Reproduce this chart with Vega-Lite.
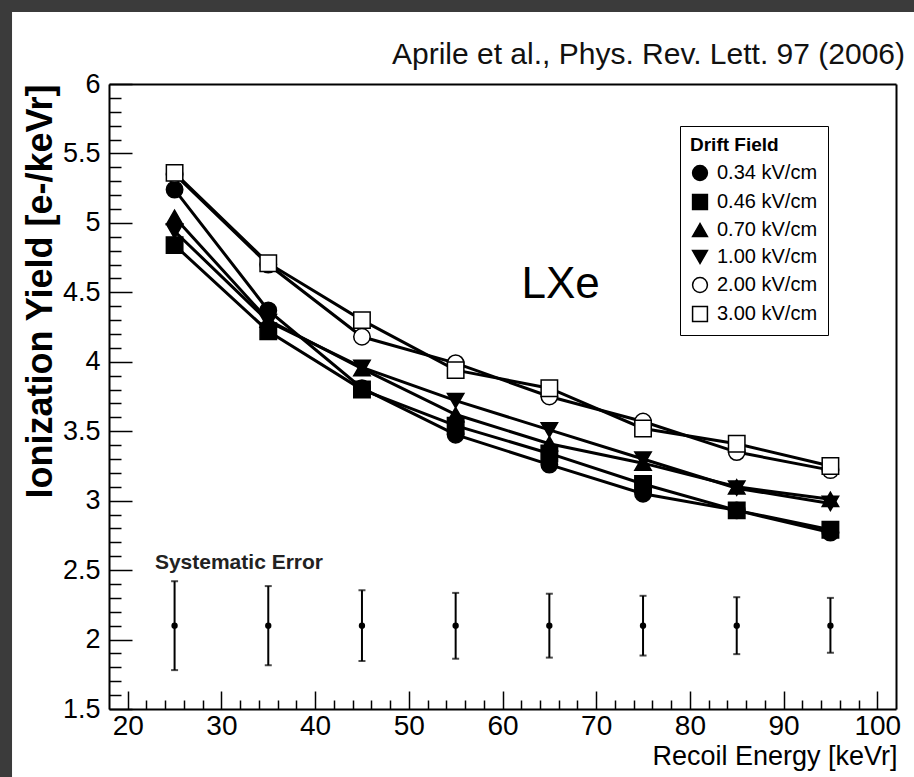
{
  "$schema": "https://vega.github.io/schema/vega-lite/v6.json",
  "width": 787,
  "height": 625,
  "autosize": {"type": "none"},
  "padding": {"left": 109, "top": 84, "right": 18, "bottom": 68},
  "background": "#3b3b3b",
  "config": {
    "view": {"stroke": null},
    "font": "Liberation Sans",
    "axis": {"grid": false, "domainColor": "black", "domainWidth": 2, "tickColor": "black", "tickWidth": 1.5, "labelColor": "black", "titleColor": "black"}
  },
  "title": {
    "text": "Aprile et al., Phys. Rev. Lett. 97 (2006)",
    "anchor": "end",
    "frame": "group",
    "font": "Liberation Sans",
    "fontSize": 30,
    "fontWeight": "normal",
    "color": "#111111",
    "baseline": "bottom",
    "offset": -88,
    "dx": 9,
    "zindex": 2
  },
  "datasets": {
    "yield": [
      {"field": "0.34 kV/cm", "energy": 25, "yield": 5.24},
      {"field": "0.34 kV/cm", "energy": 35, "yield": 4.37},
      {"field": "0.34 kV/cm", "energy": 45, "yield": 3.81},
      {"field": "0.34 kV/cm", "energy": 55, "yield": 3.475},
      {"field": "0.34 kV/cm", "energy": 65, "yield": 3.26},
      {"field": "0.34 kV/cm", "energy": 75, "yield": 3.05},
      {"field": "0.34 kV/cm", "energy": 85, "yield": 2.93},
      {"field": "0.34 kV/cm", "energy": 95, "yield": 2.77},
      {"field": "0.46 kV/cm", "energy": 25, "yield": 4.84},
      {"field": "0.46 kV/cm", "energy": 35, "yield": 4.22},
      {"field": "0.46 kV/cm", "energy": 45, "yield": 3.8},
      {"field": "0.46 kV/cm", "energy": 55, "yield": 3.54},
      {"field": "0.46 kV/cm", "energy": 65, "yield": 3.34},
      {"field": "0.46 kV/cm", "energy": 75, "yield": 3.12},
      {"field": "0.46 kV/cm", "energy": 85, "yield": 2.93},
      {"field": "0.46 kV/cm", "energy": 95, "yield": 2.79},
      {"field": "0.70 kV/cm", "energy": 25, "yield": 5.04},
      {"field": "0.70 kV/cm", "energy": 35, "yield": 4.3},
      {"field": "0.70 kV/cm", "energy": 45, "yield": 3.95},
      {"field": "0.70 kV/cm", "energy": 55, "yield": 3.62},
      {"field": "0.70 kV/cm", "energy": 65, "yield": 3.41},
      {"field": "0.70 kV/cm", "energy": 75, "yield": 3.27},
      {"field": "0.70 kV/cm", "energy": 85, "yield": 3.1},
      {"field": "0.70 kV/cm", "energy": 95, "yield": 3.01},
      {"field": "1.00 kV/cm", "energy": 25, "yield": 4.94},
      {"field": "1.00 kV/cm", "energy": 35, "yield": 4.29},
      {"field": "1.00 kV/cm", "energy": 45, "yield": 3.96},
      {"field": "1.00 kV/cm", "energy": 55, "yield": 3.72},
      {"field": "1.00 kV/cm", "energy": 65, "yield": 3.51},
      {"field": "1.00 kV/cm", "energy": 75, "yield": 3.3},
      {"field": "1.00 kV/cm", "energy": 85, "yield": 3.09},
      {"field": "1.00 kV/cm", "energy": 95, "yield": 2.98},
      {"field": "2.00 kV/cm", "energy": 25, "yield": 5.35},
      {"field": "2.00 kV/cm", "energy": 35, "yield": 4.7},
      {"field": "2.00 kV/cm", "energy": 45, "yield": 4.18},
      {"field": "2.00 kV/cm", "energy": 55, "yield": 3.99},
      {"field": "2.00 kV/cm", "energy": 65, "yield": 3.75},
      {"field": "2.00 kV/cm", "energy": 75, "yield": 3.57},
      {"field": "2.00 kV/cm", "energy": 85, "yield": 3.35},
      {"field": "2.00 kV/cm", "energy": 95, "yield": 3.22},
      {"field": "3.00 kV/cm", "energy": 25, "yield": 5.36},
      {"field": "3.00 kV/cm", "energy": 35, "yield": 4.71},
      {"field": "3.00 kV/cm", "energy": 45, "yield": 4.3},
      {"field": "3.00 kV/cm", "energy": 55, "yield": 3.94},
      {"field": "3.00 kV/cm", "energy": 65, "yield": 3.81},
      {"field": "3.00 kV/cm", "energy": 75, "yield": 3.52},
      {"field": "3.00 kV/cm", "energy": 85, "yield": 3.41},
      {"field": "3.00 kV/cm", "energy": 95, "yield": 3.25}
    ],
    "syst": [
      {"energy": 25, "center": 2.1, "lo": 1.78, "hi": 2.42},
      {"energy": 35, "center": 2.1, "lo": 1.815, "hi": 2.385},
      {"energy": 45, "center": 2.1, "lo": 1.845, "hi": 2.355},
      {"energy": 55, "center": 2.1, "lo": 1.862, "hi": 2.336},
      {"energy": 65, "center": 2.1, "lo": 1.87, "hi": 2.33},
      {"energy": 75, "center": 2.1, "lo": 1.885, "hi": 2.315},
      {"energy": 85, "center": 2.1, "lo": 1.895, "hi": 2.305},
      {"energy": 95, "center": 2.1, "lo": 1.905, "hi": 2.3}
    ]
  },
  "layer": [
    {
      "data": {"values": [{}]},
      "mark": {"type": "rect", "fill": "white", "clip": false},
      "encoding": {
        "x": {"datum": 7.65, "type": "quantitative", "scale": {"domain": [18, 102], "nice": false, "zero": false},
              "axis": {"orient": "top", "labels": false, "ticks": false, "domain": true, "title": null, "zindex": 1}},
        "x2": {"datum": 104.5},
        "y": {"datum": 6.518, "type": "quantitative", "scale": {"domain": [1.5, 6], "nice": false, "zero": false},
              "axis": {"orient": "right", "labels": false, "ticks": false, "domain": true, "title": null, "zindex": 1}},
        "y2": {"datum": 0.9}
      }
    },
    {
      "data": {"name": "syst"},
      "mark": {"type": "rule", "color": "black", "strokeWidth": 2},
      "encoding": {
        "x": {"field": "energy", "type": "quantitative", "scale": {"domain": [18, 102], "nice": false, "zero": false},
              "axis": {"orient": "bottom", "zindex": 1, "values": [20, 30, 40, 50, 60, 70, 80, 90, 100], "ticks": false, "domain": true, "labelPadding": 3,
                       "labelFontSize": 28, "format": "d", "labelFlush": false, "labelOverlap": false,
                       "title": "Recoil Energy [keVr]", "titleFontSize": 27, "titleFontWeight": "normal",
                       "titleAnchor": "end", "titleAlign": "right", "titleX": 788, "titleY": 47, "titleBaseline": "middle"}},
        "y": {"field": "lo", "type": "quantitative", "scale": {"domain": [1.5, 6], "nice": false, "zero": false},
              "axis": {"orient": "left", "zindex": 1, "values": [1.5, 2, 2.5, 3, 3.5, 4, 4.5, 5, 5.5, 6], "ticks": false, "domain": true, "labelPadding": 9,
                       "labelFontSize": 27, "format": "~g", "labelFlush": false, "labelOverlap": false,
                       "title": "Ionization Yield [e-/keVr]", "titleFontSize": 36, "titleFontWeight": "bold",
                       "titleAngle": -90, "titleAlign": "right", "titleBaseline": "middle", "titleX": -69, "titleY": 0}},
        "y2": {"field": "hi"}
      }
    },
    {
      "data": {"name": "syst"},
      "mark": {"type": "tick", "color": "black", "orient": "horizontal", "size": 7, "thickness": 2},
      "encoding": {
        "x": {"field": "energy", "type": "quantitative", "scale": {"domain": [18, 102], "nice": false, "zero": false},
              "axis": {"orient": "bottom", "zindex": 1, "values": [20, 30, 40, 50, 60, 70, 80, 90, 100], "labels": false, "domain": false, "ticks": true, "tickSize": -18, "title": null}},
        "y": {"field": "lo", "type": "quantitative", "scale": {"domain": [1.5, 6], "nice": false, "zero": false},
              "axis": {"orient": "left", "zindex": 1, "values": [1.5, 2, 2.5, 3, 3.5, 4, 4.5, 5, 5.5, 6], "labels": false, "domain": false, "ticks": true, "tickSize": -23, "title": null}}
      }
    },
    {
      "data": {"name": "syst"},
      "mark": {"type": "tick", "color": "black", "orient": "horizontal", "size": 7, "thickness": 2},
      "encoding": {
        "x": {"field": "energy", "type": "quantitative", "scale": {"domain": [18, 102], "nice": false, "zero": false},
              "axis": {"orient": "bottom", "zindex": 1, "values": [22, 24, 26, 28, 32, 34, 36, 38, 42, 44, 46, 48, 52, 54, 56, 58, 62, 64, 66, 68, 72, 74, 76, 78, 82, 84, 86, 88, 92, 94, 96, 98], "labels": false, "domain": false, "ticks": true, "tickSize": -9, "title": null}},
        "y": {"field": "hi", "type": "quantitative", "scale": {"domain": [1.5, 6], "nice": false, "zero": false},
              "axis": {"orient": "left", "zindex": 1, "values": [1.6, 1.7, 1.8, 1.9, 2.1, 2.2, 2.3, 2.4, 2.6, 2.7, 2.8, 2.9, 3.1, 3.2, 3.3, 3.4, 3.6, 3.7, 3.8, 3.9, 4.1, 4.2, 4.3, 4.4, 4.6, 4.7, 4.8, 4.9, 5.1, 5.2, 5.3, 5.4, 5.6, 5.7, 5.8, 5.9], "labels": false, "domain": false, "ticks": true, "tickSize": -12, "title": null}}
      }
    },
    {
      "data": {"name": "syst"},
      "mark": {"type": "point", "filled": true, "color": "black", "size": 40, "shape": "circle", "opacity": 1},
      "encoding": {
        "x": {"field": "energy", "type": "quantitative", "scale": {"domain": [18, 102], "nice": false, "zero": false}, "axis": null},
        "y": {"field": "center", "type": "quantitative", "scale": {"domain": [1.5, 6], "nice": false, "zero": false}, "axis": null}
      }
    },
    {
      "data": {"name": "yield"},
      "mark": {"type": "line", "color": "black", "strokeWidth": 3},
      "encoding": {
        "x": {"field": "energy", "type": "quantitative", "scale": {"domain": [18, 102], "nice": false, "zero": false}, "axis": null},
        "y": {"field": "yield", "type": "quantitative", "scale": {"domain": [1.5, 6], "nice": false, "zero": false}, "axis": null},
        "detail": {"field": "field", "type": "nominal"},
        "order": {"field": "energy", "type": "quantitative"}
      }
    },
    {
      "data": {"name": "yield"},
      "mark": {"type": "point", "filled": true, "strokeWidth": 1.5, "size": 270, "opacity": 1},
      "encoding": {
        "x": {"field": "energy", "type": "quantitative", "scale": {"domain": [18, 102], "nice": false, "zero": false}, "axis": null},
        "y": {"field": "yield", "type": "quantitative", "scale": {"domain": [1.5, 6], "nice": false, "zero": false}, "axis": null},
        "shape": {"field": "field", "type": "nominal", "title": "Drift Field",
                  "scale": {"domain": ["0.34 kV/cm", "0.46 kV/cm", "0.70 kV/cm", "1.00 kV/cm", "2.00 kV/cm", "3.00 kV/cm"],
                            "range": ["circle", "square", "triangle-up", "triangle-down", "circle", "square"]},
                  "legend": {"orient": "none", "legendX": 571, "legendY": 42, "fillColor": "white", "strokeColor": "black", "padding": 10,
                             "titleFont": "Liberation Sans", "titleFontSize": 19, "titleFontWeight": "bold", "titleColor": "black", "titlePadding": 8,
                             "labelFont": "Liberation Sans", "labelFontSize": 20, "labelColor": "black", "labelOffset": 7, "rowPadding": 7,
                             "symbolSize": 220, "symbolStrokeWidth": 1.5}},
        "fill": {"field": "field", "type": "nominal", "title": "Drift Field",
                 "scale": {"domain": ["0.34 kV/cm", "0.46 kV/cm", "0.70 kV/cm", "1.00 kV/cm", "2.00 kV/cm", "3.00 kV/cm"],
                           "range": ["black", "black", "black", "black", "white", "white"]},
                 "legend": {"orient": "none", "legendX": 571, "legendY": 42, "fillColor": "white", "strokeColor": "black", "padding": 10,
                            "titleFont": "Liberation Sans", "titleFontSize": 19, "titleFontWeight": "bold", "titleColor": "black", "titlePadding": 8,
                            "labelFont": "Liberation Sans", "labelFontSize": 20, "labelColor": "black", "labelOffset": 7, "rowPadding": 7,
                            "symbolSize": 220, "symbolStrokeWidth": 1.5}},
        "stroke": {"field": "field", "type": "nominal", "title": "Drift Field",
                   "scale": {"domain": ["0.34 kV/cm", "0.46 kV/cm", "0.70 kV/cm", "1.00 kV/cm", "2.00 kV/cm", "3.00 kV/cm"],
                             "range": ["black", "black", "black", "black", "black", "black"]},
                   "legend": {"orient": "none", "legendX": 571, "legendY": 42, "fillColor": "white", "strokeColor": "black", "padding": 10,
                              "titleFont": "Liberation Sans", "titleFontSize": 19, "titleFontWeight": "bold", "titleColor": "black", "titlePadding": 8,
                              "labelFont": "Liberation Sans", "labelFontSize": 20, "labelColor": "black", "labelOffset": 7, "rowPadding": 7,
                              "symbolSize": 220, "symbolStrokeWidth": 1.5}}
      }
    },
    {
      "data": {"values": [{}]},
      "mark": {"type": "text", "text": "LXe", "fontSize": 44, "align": "center", "baseline": "middle", "color": "black"},
      "encoding": {
        "x": {"datum": 66.2, "type": "quantitative", "scale": {"domain": [18, 102], "nice": false, "zero": false}, "axis": null},
        "y": {"datum": 4.553, "type": "quantitative", "scale": {"domain": [1.5, 6], "nice": false, "zero": false}, "axis": null}
      }
    },
    {
      "data": {"values": [{}]},
      "mark": {"type": "text", "text": "Systematic Error", "fontSize": 21, "fontWeight": "bold", "align": "left", "baseline": "middle", "color": "#222222"},
      "encoding": {
        "x": {"datum": 22.9, "type": "quantitative", "scale": {"domain": [18, 102], "nice": false, "zero": false}, "axis": null},
        "y": {"datum": 2.551, "type": "quantitative", "scale": {"domain": [1.5, 6], "nice": false, "zero": false}, "axis": null}
      }
    }
  ],
  "resolve": {"axis": {"x": "independent", "y": "independent"}}
}
